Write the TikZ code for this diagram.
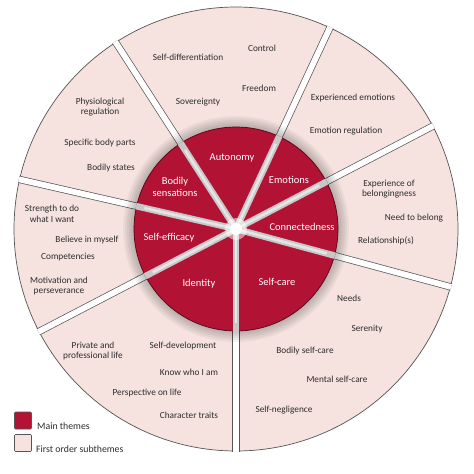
\documentclass[tikz,border=0pt]{standalone}
\usepackage{fontspec}
\setmainfont{Carlito}
\definecolor{themered}{RGB}{178,18,52}
\definecolor{subpink}{RGB}{246,227,224}
\definecolor{edgegray}{RGB}{85,85,85}
\definecolor{txtgray}{RGB}{45,45,45}
\begin{document}
\begin{tikzpicture}[x=1pt,y=-1pt,
  sub/.style={text=txtgray, font=\fontsize{9.3}{10.5}\selectfont, align=center, inner sep=0pt},
  mainlbl/.style={text=white, font=\fontsize{10.5}{11.5}\selectfont, align=center, inner sep=0pt},
  legbox/.style={draw=edgegray, line width=0.6pt, minimum size=17pt, inner sep=0pt, rounded corners=1pt},
  legtxt/.style={text=txtgray, font=\fontsize{9.8}{11}\selectfont, anchor=base west, inner sep=0pt}]
\useasboundingbox[fill=white] (0,0) rectangle (474,474);
\coordinate (C) at (236,229);
\def\Rout{222}
\def\Rin{102}
\def\gaps{-122.8,-65,-27.6,15.1,90,152.5,-167.1}
% outer ring
\fill[subpink] (C) circle (\Rout);
\draw[edgegray, line width=0.7pt] (C) circle (\Rout);
\begin{scope}
  \clip (C) circle (\Rout+0.8);
  \foreach \a in \gaps {
    \draw[edgegray, line width=7.2pt] (C) -- ++(\a:240);
    \draw[white, line width=5.8pt] (C) -- ++(\a:240);
  }
\end{scope}
% shadow of inner disc
\foreach \r in {113,111,...,103} {\fill[black, opacity=0.045] (C) circle (\r);}
% inner disc
\fill[themered] (C) circle (\Rin);
\draw[black!55!themered, line width=0.7pt] (C) circle (\Rin);
\foreach \a in \gaps {
  \draw[black!22, line width=6.5pt] (C) -- ++(\a:\Rin+0.5);
  \draw[white, opacity=0.55, line width=2.5pt] (C) -- ++(\a:\Rin-8);
}
\fill[white, opacity=0.5] (C) circle (11);
\fill[white] (C) circle (6);
% main themes
\node[mainlbl] (autonomy) at (232,158) {Autonomy};
\node[mainlbl] (emotions) at (289,180) {Emotions};
\node[mainlbl] (connect) at (302,227) {Connectedness};
\node[mainlbl] (selfcare) at (277,282) {Self-care};
\node[mainlbl] (identity) at (199,284) {Identity};
\node[mainlbl] (efficacy) at (169,238) {Self-efficacy};
\node[mainlbl] (bodily) at (175,187) {Bodily\\sensations};
% subthemes
\node[sub] (s1) at (188,57) {Self-differentiation};
\node[sub] (s2) at (198,102) {Sovereignty};
\node[sub] (s3) at (262,48) {Control};
\node[sub] (s4) at (259,88) {Freedom};
\node[sub] (s5) at (353,98) {Experienced emotions};
\node[sub] (s6) at (346,131) {Emotion regulation};
\node[sub] (s7) at (389,189) {Experience of\\belongingness};
\node[sub] (s8) at (414,218) {Need to belong};
\node[sub] (s9) at (386,241) {Relationship(s)};
\node[sub] (s10) at (349,298) {Needs};
\node[sub] (s11) at (367,329) {Serenity};
\node[sub] (s12) at (305,351) {Bodily self-care};
\node[sub] (s13) at (337,379) {Mental self-care};
\node[sub] (s14) at (284,410) {Self-negligence};
\node[sub] (s15) at (93,351) {Private and\\professional life};
\node[sub] (s16) at (183,346) {Self-development};
\node[sub] (s17) at (189,372) {Know who I am};
\node[sub] (s18) at (147,393) {Perspective on life};
\node[sub] (s19) at (189,415) {Character traits};
\node[sub] (s20) at (52,214) {Strength to do\\what I want};
\node[sub] (s21) at (87,240) {Believe in myself};
\node[sub] (s22) at (68,257) {Competencies};
\node[sub] (s23) at (59,286) {Motivation and\\perseverance};
\node[sub] (s24) at (100,107) {Physiological\\regulation};
\node[sub] (s25) at (100,143) {Specific body parts};
\node[sub] (s26) at (111,168) {Bodily states};
% legend
\node[legbox, fill=themered] (leg1) at (23,420.5) {};
\node[legbox, fill=subpink] (leg2) at (23,443) {};
\node[legtxt] (legt1) at (37,429.5) {Main themes};
\node[legtxt] (legt2) at (36,452) {First order subthemes};
\end{tikzpicture}
\end{document}
